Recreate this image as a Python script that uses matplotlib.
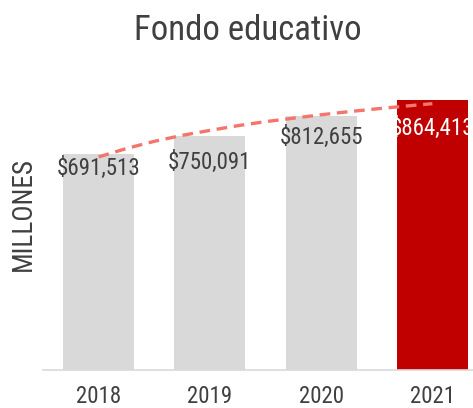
import matplotlib
matplotlib.use("Agg")
import matplotlib.pyplot as plt

plt.rcParams["font.family"] = ["Roboto Condensed", "Liberation Sans", "DejaVu Sans"]

years = ["2018", "2019", "2020", "2021"]
fondo = [691513, 750091, 812655, 864413]
# dashed trend line, values at quarter steps
trend_x = [0, 0.25, 0.5, 0.75, 1, 1.25, 1.5, 1.75, 2, 2.25, 2.5, 2.75, 3]
trend_y = [682000, 709000, 732000, 751000, 767000, 782000, 795000, 806000,
           817000, 827000, 836000, 844500, 852500]

bar_colors = ["#D9D9D9", "#D9D9D9", "#D9D9D9", "#C00000"]
label_colors = ["#404040", "#404040", "#404040", "white"]
label_offsets = [-14, -27, -21, -28]  # px below bar top

fig = plt.figure(figsize=(4.73, 4.08), dpi=100)
W, H = 473, 408
ax = fig.add_axes([43 / W, (H - 370) / H, 445 / W, 312.4 / H])

xs = list(range(len(years)))
ax.bar(xs, fondo, width=0.638, color=bar_colors, zorder=2)
ax.plot(trend_x, trend_y, color="#F4756C", lw=2.4, ls=(0, (3.2, 2.0)),
        dash_capstyle="butt", zorder=3)

for x, v, c, off in zip(xs, fondo, label_colors, label_offsets):
    ax.annotate(f"${v:,}", (x, v), xytext=(0, off * 0.72), textcoords="offset points",
                ha="center", va="center", fontsize=16.5, color=c, zorder=4,
                annotation_clip=False)

ax.set_xlim(-0.5, 3.5)
ax.set_ylim(0, 1000000)
ax.set_xticks(xs)
ax.set_xticklabels(years, fontsize=16.5, color="#404040")
ax.tick_params(axis="x", length=0, pad=11)
ax.set_yticks([])
for s in ["top", "right", "left"]:
    ax.spines[s].set_visible(False)
ax.spines["bottom"].set_color("#D9D9D9")
ax.spines["bottom"].set_linewidth(1.2)

fig.text(23 / W, 1 - 214 / H, "MILLONES", rotation=90, ha="center", va="center",
         fontsize=19.5, color="#404040")
fig.text(248 / W, 1 - 31 / H, "Fondo educativo", ha="center", va="center",
         fontsize=25, color="#404040")

fig.savefig("out.png", dpi=100)
